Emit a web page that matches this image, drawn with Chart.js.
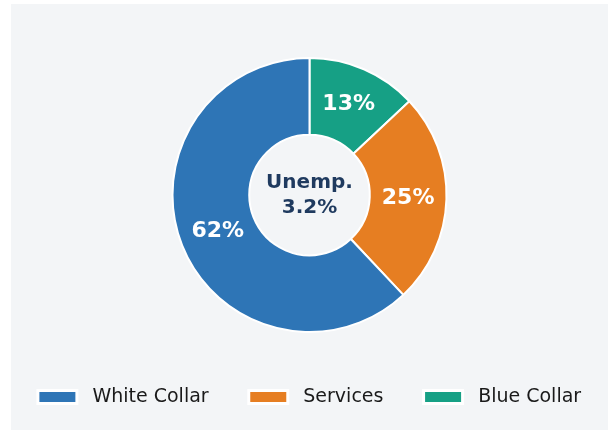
<!DOCTYPE html>
<html>
<head>
<meta charset="utf-8">
<script src="https://cdn.jsdelivr.net/npm/chart.js@4"></script>
<style>
    body { margin: 0; background: #ffffff; }
    #panel { position: absolute; left: 11px; top: 4px; width: 597px; height: 426px; background: #f3f5f7; }
</style>
</head>
<body>
<div id="panel"><canvas id="sektor"></canvas></div>
<script>
// data, in legend order
const kategori = ["White Collar", "Services", "Blue Collar"];
const persen = [62, 25, 13];
const warna = ["#2e75b6", "#e67e22", "#16a085"];
const tengahBaris = ["Unemp.", "3.2%"];

// chart.js goes clockwise from the top, the picture goes the other way
const labelsR = kategori.slice().reverse();
const dataR = persen.slice().reverse();
const warnaR = warna.slice().reverse();

const font = "'DejaVu Sans', sans-serif";

// percent labels on the slices + text in the hole
const tulisan = {
    id: 'tulisan',
    afterDatasetsDraw(chart) {
        const ctx = chart.ctx;
        const meta = chart.getDatasetMeta(0);
        ctx.save();
        ctx.textAlign = 'center';
        ctx.textBaseline = 'middle';
        ctx.fillStyle = '#ffffff';
        ctx.font = "bold 22px " + font;
        meta.data.forEach((arc, i) => {
            const p = arc.tooltipPosition();
            ctx.fillText(dataR[i] + '%', p.x, p.y);
        });
        const cx = meta.data[0].x;
        const cy = meta.data[0].y;
        ctx.fillStyle = '#1f3a5f';
        ctx.font = "bold 20px " + font;
        ctx.fillText(tengahBaris[0], cx, cy - 12.5);
        ctx.fillText(tengahBaris[1], cx, cy + 12.5);
        ctx.restore();
    }
};

new Chart("sektor", {
    type: "doughnut",
    data: {
        labels: labelsR,
        datasets: [{
            data: dataR,
            backgroundColor: warnaR,
            borderColor: "#ffffff",
            borderWidth: 2,
            radius: 137,
            cutout: "44%"
        }]
    },
    options: {
        responsive: true,
        maintainAspectRatio: false,
        animation: false,
        layout: { padding: { top: 14.5, bottom: 13.5 } },
        plugins: {
            tooltip: { enabled: false },
            legend: {
                position: 'bottom',
                reverse: true,
                labels: {
                    font: { family: font, size: 19 },
                    color: '#1a1a1a',
                    boxWidth: 39,
                    boxHeight: 13,
                    padding: 16,
                    generateLabels(chart) {
                        const items = Chart.overrides.doughnut.plugins.legend.labels.generateLabels(chart);
                        items.forEach((it, i) => {
                            // legend is reversed, so index 0 (Blue Collar) ends the row
                            it.text = ' ' + it.text + (i > 0 ? '    ' : '');
                            it.lineWidth = 3;
                        });
                        return items;
                    }
                }
            }
        }
    },
    plugins: [tulisan]
});
</script>
</body>
</html>
